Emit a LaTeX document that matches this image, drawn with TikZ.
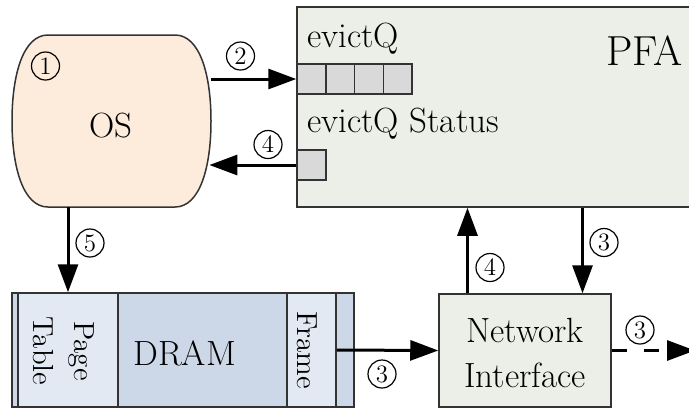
\documentclass[tikz,border=0pt]{standalone}
\usetikzlibrary{arrows.meta,calc}
\definecolor{peach}{RGB}{253,236,219}
\definecolor{pfag}{RGB}{236,239,232}
\definecolor{cellg}{RGB}{217,217,217}
\definecolor{dlight}{RGB}{227,233,243}
\definecolor{ddark}{RGB}{204,215,231}
\definecolor{bordc}{RGB}{51,51,51}
\begin{document}
\begin{tikzpicture}[x=0.5pt,y=-0.5pt,
  box/.style={draw=bordc, line width=0.75pt, inner sep=0pt},
  arr/.style={line width=1.5pt, -{Triangle[length=14pt,width=10pt]}},
  num/.style={circle, draw=black, line width=0.6pt, minimum size=14pt, inner sep=0pt, font=\fontsize{12.5}{12.5}\selectfont},
  txt/.style={font=\fontsize{17.5}{22.5}\selectfont, inner sep=0pt},
  rtxt/.style={font=\fontsize{14.5}{20.5}\selectfont, inner sep=0pt, rotate=-90, align=center},
]
\useasboundingbox (0,0) rectangle (689,409);
\clip (0,0) rectangle (689,409);

% OS barrel
\node[inner sep=0pt, minimum width=99.5pt, minimum height=86pt] (os) at (111.5,121) {};
\draw[draw=bordc, line width=0.75pt, fill=peach]
  (48,35) -- (175,35) .. controls (200,35) and (211,75) .. (211,121)
  .. controls (211,167) and (200,207) .. (175,207) -- (48,207)
  .. controls (23,207) and (12,167) .. (12,121)
  .. controls (12,75) and (23,35) .. (48,35) -- cycle;
\node[txt, anchor=base] (ost) at (111,137) {OS};

% PFA
\node[box, fill=pfag, minimum width=201.5pt, minimum height=100pt] (pfa) at (498.5,107) {};
\node[font=\fontsize{21}{22}\selectfont, inner sep=0pt, anchor=base east] (pfat) at (683,65) {PFA};
\node[txt, anchor=base west] (eq) at (307,47) {evictQ};
\node[txt, anchor=base west] (eqs) at (307,132) {evictQ Status};
\foreach \i/\cx in {1/311.375,2/340.125,3/368.875,4/397.625}
  \node[box, fill=cellg, minimum width=14.375pt, minimum height=15pt] (q\i) at (\cx,79) {};
\node[box, fill=cellg, minimum width=14.5pt, minimum height=15pt] (st) at (311.5,165) {};

% DRAM
\node[box, fill=ddark, minimum width=3pt, minimum height=57pt] (s1) at (15,350) {};
\node[box, fill=dlight, minimum width=50pt, minimum height=57pt] (pt) at (68,350) {};
\node[box, fill=ddark, minimum width=84.5pt, minimum height=57pt] (dm) at (202.5,350) {};
\node[box, fill=dlight, minimum width=24.5pt, minimum height=57pt] (fr) at (311.5,350) {};
\node[box, fill=ddark, minimum width=9pt, minimum height=57pt] (s2) at (345,350) {};
\node[rtxt] (ptt) at (64,351) {Page\\Table};
\node[txt, anchor=base west] (dmt) at (133,365) {DRAM};
\node[rtxt] (frt) at (307,350) {Frame};

% Network interface
\node[box, fill=pfag, minimum width=86pt, minimum height=56.5pt] (ni) at (525,350.5) {};
\node[txt, align=center, anchor=base] (nit) at (525,387) {Network\\Interface};

% arrows
\coordinate (upx) at ($(ni.north)+(-57.5,0)$);
\coordinate (dnx) at ($(ni.north)+(57.5,0)$);
\draw[arr] (os.east |- q1.west) -- (q1.west);
\draw[arr] (st.west) -- ($(st.west -| os.east)+(-2,0)$);
\draw[arr] (pt.north |- os.south) -- (pt.north);
\draw[arr] (fr.east) -- (ni.west);
\draw[arr] (upx) -- (upx |- pfa.south);
\draw[arr] (dnx |- pfa.south) -- (dnx);
\coordinate (dend) at (695,350.5);
\draw[arr, dash pattern=on 7.5pt off 8.5pt] (ni.east) -- (dend);

% numbers
\node[num] (n1) at (45.5,66) {1};
\node[num] (n2) at (240.5,56) {2};
\node[num] (n4a) at (268,144.5) {4};
\node[num] (n5) at (90,243) {5};
\node[num] (n3a) at (382,374) {3};
\node[num] (n4b) at (490,267.5) {4};
\node[num] (n3b) at (604,242.5) {3};
\node[num] (n3c) at (640,330) {3};
\end{tikzpicture}
\end{document}
